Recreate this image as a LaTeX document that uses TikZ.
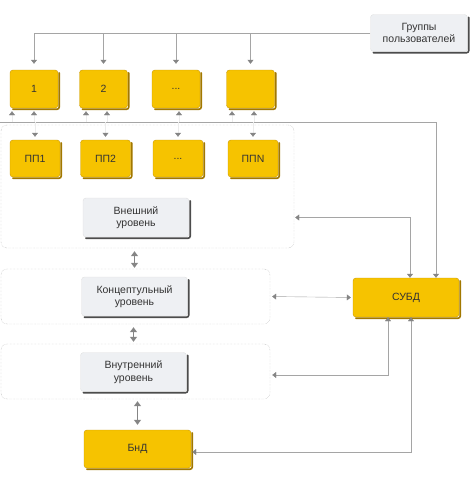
\documentclass[tikz,border=0pt]{standalone}
\usepackage{fontspec}
\setmainfont{Liberation Sans}
\usetikzlibrary{arrows.meta,positioning}
\definecolor{dbyellow}{HTML}{F6C300}
\definecolor{dbyellowdk}{HTML}{C99700}
\definecolor{dbshade}{HTML}{A27800}
\definecolor{dbgrey}{HTML}{EEF0F3}
\definecolor{dbline}{HTML}{A5A5A5}
\definecolor{dbtip}{HTML}{858585}

\begin{document}
\begin{tikzpicture}[x=1pt, y=-1pt,
    ubox/.style={draw=dbyellowdk, fill=dbyellow, rounded corners=3pt,
                 minimum width=48pt, minimum height=38pt,
                 font=\fontsize{10.5}{12.5}\selectfont, text=black!80},
    lvl/.style={draw=black!12, fill=dbgrey, rounded corners=3pt,
                minimum width=106pt, minimum height=39pt, align=center,
                font=\fontsize{10.5}{12.5}\selectfont, text=black!80},
    edge/.style={line width=1.6pt, line cap=round, rounded corners=2pt},
    area/.style={draw=black!35, densely dotted, rounded corners=6pt, inner sep=0pt},
    arr/.style={-{Triangle[width=6pt,length=4pt,color=dbtip]}, draw=dbline},
    tick/.style={-{Triangle[width=6pt,length=4pt,color=dbtip]}, draw=black!8},
    darr/.style={{Triangle[width=6pt,length=4pt,color=dbtip]}-{Triangle[width=6pt,length=4pt,color=dbtip]},
                 draw=dbline},
    dbl/.style={{Triangle[width=7pt,length=5pt]}-{Triangle[width=7pt,length=5pt]},
                draw=dbtip, line width=1.5pt}
  ]
  \useasboundingbox (0,0) rectangle (469,477);
  % user groups
  \node[lvl, minimum width=97pt, minimum height=37pt] (grp) at (419,33) {Группы\\пользователей};
  \node[ubox] (u1) at (34,89)    {1};
  \node[ubox] (u2) at (103.5,89) {2};
  \node[ubox] (u3) at (176,89)   {...};
  \node[ubox] (u4) at (250.5,89) {};
  % external level
  \node[area, minimum width=293pt, minimum height=123pt] (ext) at (147.5,186.5) {};
  \node[ubox, minimum width=50pt, minimum height=37pt] (pp1) at (35,158.5)  {ПП1};
  \node[ubox, minimum width=50pt, minimum height=37pt] (pp2) at (105.5,158.5) {ПП2};
  \node[ubox, minimum width=50pt, minimum height=37pt] (pp3) at (178,158.5) {...};
  \node[ubox, minimum width=50pt, minimum height=37pt] (ppN) at (253,158.5) {ППN};
  \node[lvl] (extl) at (136,217.5) {Внешний\\уровень};
  % conceptual and internal levels
  \node[area, minimum width=269pt, minimum height=55pt] (con) at (135.5,296.5) {};
  \node[lvl] (conl) at (134.5,296.5) {Концептульный\\уровень};
  \node[area, minimum width=269pt, minimum height=55pt] (int) at (135.5,371.5) {};
  \node[lvl] (intl) at (133.5,372) {Внутренний\\уровень};
  \node[ubox, minimum width=106pt, minimum height=39pt] (subd) at (406,297.5) {СУБД};
  \node[ubox, minimum width=107pt, minimum height=38pt] (bnd) at (137.5,449) {БнД};

  % dark bottom-right edges
  \foreach \n in {u1,u2,u3,u4,pp1,pp2,pp3,ppN,subd,bnd}
    \draw[edge, dbshade] ([xshift=3pt,yshift=-1pt]\n.south west)
      -- ([xshift=1pt,yshift=-1pt]\n.south east) -- ([xshift=1pt,yshift=-3pt]\n.north east);
  \foreach \n in {grp,extl,conl,intl}
    \draw[edge, black!70] ([xshift=3pt,yshift=-1pt]\n.south west)
      -- ([xshift=1pt,yshift=-1pt]\n.south east) -- ([xshift=1pt,yshift=-3pt]\n.north east);

  % groups -> users
  \draw[dbline] (grp.west) -- (grp.west -| u1.north);
  \foreach \u in {u1,u2,u3,u4}
    \draw[arr, shorten >=6pt] (\u.north |- grp.west) -- (\u.north);
  % bus from the DBMS
  \coordinate (busL) at (0,122);
  \coordinate (busR) at (436,122);
  \draw[arr] (busL) -- (busR) -- (busR |- subd.north);
  \foreach \x/\b in {12/u1,34/u1,86/u2,107/u2,179/u3,232/u4,254/u4}
    \draw[tick, shorten >=3pt] (\x,0 |- busL) -- (\x,0 |- \b.south);
  \foreach \p in {pp1,pp2,pp3,ppN}
    \draw[tick, shorten >=3pt] (\p.north |- busL) -- (\p.north);
  % DBMS links
  \draw[darr, shorten <=1pt] (ext.east |- extl) -| (410,0 |- subd.north);
  \draw[darr, shorten <=2pt, shorten >=2pt] (con.east) -- (subd.west);
  \draw[darr, shorten <=2pt] ([yshift=-3.5pt]int.east) -| (388,0 |- subd.south);
  \draw[darr, shorten <=1pt] ([yshift=-3pt]bnd.east) -| (411,0 |- subd.south);
  % between levels
  \draw[dbl, shorten <=3pt, shorten >=1pt] (conl.north |- ext.south) -- (conl.north |- con.north);
  \draw[dbl, shorten <=3pt, shorten >=2pt] (intl.north |- con.south) -- (intl.north |- int.north);
  \draw[dbl, shorten <=2pt, shorten >=5pt] (bnd.north |- int.south) -- (bnd.north);
\end{tikzpicture}
\end{document}
